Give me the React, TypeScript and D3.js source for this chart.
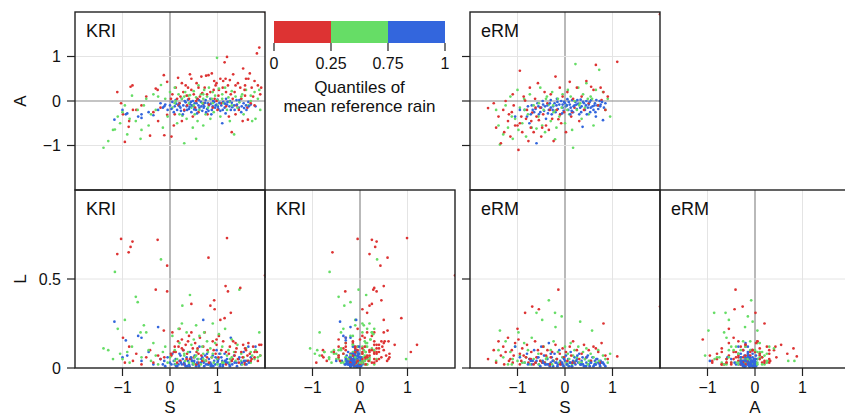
import React from "react";
import * as d3 from "d3";

// Each point: [S, A, L]
const kriLow: [number, number, number][] = [
  [-1.11, 0.2, 0.64], [-1.03, -0.05, 0.725], [-0.95, -0.92, 0.03], [-0.99, -0.3, 0.17],
  [-0.87, -0.58, 0.65], [-0.86, -0.45, 0.12], [-0.83, 0.32, 0.68], [-0.79, 0.35, 0.71],
  [-0.78, -0.2, 0.04], [-0.71, -0.2, 0.08], [-0.6, -0.1, 0.02], [-0.5, 0.1, 0.06],
  [-0.42, -0.78, 0.1], [-0.35, -0.25, 0.03], [-0.3, 0.28, 0.44], [-0.26, 0.25, 0.72],
  [-0.2, -0.15, 0.05], [-0.13, 0.58, 0.21], [-0.12, -0.77, 0.06], [-0.06, 0.43, 0.575],
  [-0.06, -0.31, 0.43], [0.03, -0.8, 0.07], [0.05, 0.15, 0.2], [0.1, -0.3, 0.12],
  [0.12, 0.3, 0.09], [0.17, 0.52, 0.15], [0.2, -0.05, 0.22], [0.22, 0.1, 0.04],
  [0.25, -0.45, 0.16], [0.28, 0.2, 0.1], [0.3, -0.2, 0.02], [0.33, 0.35, 0.13],
  [0.36, -0.1, 0.08], [0.4, 0.05, 0.18], [0.42, 0.6, 0.05], [0.45, 0.25, 0.36],
  [0.48, -0.35, 0.11], [0.5, 0.15, 0.06], [0.53, -0.15, 0.14], [0.56, 0.4, 0.09],
  [0.6, -0.25, 0.03], [0.63, 0.1, 0.17], [0.66, 0.55, 0.07], [0.7, -0.05, 0.12],
  [0.73, 0.3, 0.2], [0.76, 0.57, 0.04], [0.79, -0.3, 0.1], [0.81, 0.58, 0.62],
  [0.85, 0.2, 0.35], [0.88, 0.62, 0.06], [0.9, -0.15, 0.15], [0.93, 0.45, 0.38],
  [0.94, 0.05, 0.33], [0.96, 0.35, 0.08], [0.98, 0.4, 0.13], [1.0, -0.2, 0.05],
  [1.03, 0.25, 0.18], [1.06, 0.5, 0.27], [1.08, -0.05, 0.1], [1.11, 0.3, 0.03],
  [1.15, 0.87, 0.28], [1.17, 0.5, 0.46], [1.2, 0.99, 0.73], [1.22, 0.35, 0.43],
  [1.24, -0.35, 0.08], [1.26, 0.47, 0.12], [1.28, 0.15, 0.31], [1.3, -0.7, 0.04],
  [1.33, 0.6, 0.15], [1.36, 0.2, 0.07], [1.4, -0.1, 0.11], [1.43, 0.4, 0.05],
  [1.48, 0.3, 0.45], [1.5, 0.05, 0.09], [1.53, -0.45, 0.06], [1.54, 0.73, 0.13],
  [1.57, 0.25, 0.03], [1.6, 0.5, 0.1], [1.63, -0.15, 0.07], [1.65, 0.5, 0.14],
  [1.64, -0.42, 0.04], [1.68, 0.62, 0.08], [1.72, 0.3, 0.05], [1.75, 0.1, 0.12],
  [1.78, 0.45, 0.06], [1.83, 1.07, 0.09], [1.85, 0.35, 0.04], [1.88, 1.2, 0.13],
  [1.9, 0.15, 0.07], [2.0, 2.0, 0.52], [0.15, 0.05, 0.03], [0.35, 0.12, 0.05],
  [0.55, 0.0, 0.02], [0.68, 0.18, 0.04], [0.82, -0.08, 0.03], [1.02, 0.12, 0.06],
  [1.18, -0.12, 0.02], [1.32, 0.05, 0.05], [1.45, -0.2, 0.03], [1.58, 0.12, 0.02],
  [1.7, -0.05, 0.04], [0.25, 0.4, 0.11], [0.6, 0.3, 0.08], [0.92, 0.25, 0.1],
  [1.12, 0.45, 0.15], [1.38, 0.35, 0.09], [0.08, -0.55, 0.09], [-0.25, -0.45, 0.07],
  [0.02, 0.05, 0.08], [0.18, -0.1, 0.12], [0.38, 0.3, 0.15], [0.58, 0.05, 0.11],
  [0.78, 0.15, 0.06], [0.98, 0.0, 0.16], [1.18, 0.2, 0.09], [1.38, -0.3, 0.14],
  [1.58, 0.35, 0.11], [1.78, -0.1, 0.09], [1.92, 0.3, 0.13], [0.45, 0.5, 0.2],
];

const kriMid: [number, number, number][] = [
  [-1.4, -1.05, 0.11], [-1.3, -0.9, 0.1], [-1.2, -0.65, 0.05], [-1.16, -0.64, 0.54],
  [-1.1, -0.35, 0.22], [-1.05, -0.5, 0.08], [-0.95, -0.1, 0.27], [-0.85, -0.4, 0.03],
  [-0.8, 0.12, 0.12], [-0.72, -0.45, 0.4], [-0.68, -0.2, 0.37], [-0.6, -0.65, 0.06],
  [-0.55, -0.1, 0.24], [-0.5, 0.05, 0.2], [-0.45, -0.55, 0.1], [-0.4, -0.3, 0.04],
  [-0.35, 0.15, 0.14], [-0.3, -0.2, 0.07], [-0.25, 0.1, 0.02], [-0.19, 0.36, 0.61],
  [-0.15, -0.6, 0.09], [-0.1, 0.05, 0.12], [-0.05, -0.35, 0.03], [0.0, 0.2, 0.06],
  [0.05, -0.15, 0.18], [0.1, 0.3, 0.1], [0.15, -0.5, 0.05], [0.18, 0.15, 0.22],
  [0.2, -0.3, 0.14], [0.25, 0.05, 0.25], [0.26, -0.33, 0.35], [0.3, -0.95, 0.08],
  [0.32, 0.2, 0.04], [0.35, -0.4, 0.2], [0.38, 0.12, 0.09], [0.42, 0.13, 0.41],
  [0.45, -0.15, 0.13], [0.48, -0.6, 0.03], [0.5, 0.22, 0.16], [0.52, -0.3, 0.06],
  [0.55, 0.08, 0.24], [0.58, -0.45, 0.1], [0.6, 0.35, 0.05], [0.62, -0.2, 0.18],
  [0.65, 0.15, 0.02], [0.68, -0.05, 0.12], [0.7, -0.55, 0.08], [0.72, 0.25, 0.2],
  [0.75, -0.3, 0.04], [0.78, 0.1, 0.15], [0.8, -0.15, 0.09], [0.82, 0.3, 0.02],
  [0.85, -0.4, 0.11], [0.88, 0.05, 0.06], [0.9, 0.2, 0.25], [0.92, -0.25, 0.03],
  [0.95, 0.12, 0.14], [0.99, 0.97, 0.05], [1.0, -0.1, 0.05], [1.03, 0.28, 0.19],
  [1.06, -0.35, 0.08], [1.1, 0.15, 0.12], [1.13, -0.05, 0.03], [1.16, 0.3, 0.22],
  [1.2, -0.2, 0.07], [1.23, 0.08, 0.1], [1.26, -0.45, 0.05], [1.3, 0.22, 0.16],
  [1.35, -0.75, 0.09], [1.38, 0.1, 0.04], [1.42, -0.15, 0.13], [1.46, -0.03, 0.44],
  [1.5, 0.05, 0.08], [1.55, -0.3, 0.06], [1.6, 0.25, 0.11], [1.65, -0.1, 0.04],
  [1.7, 0.12, 0.09], [1.73, -0.45, 0.07], [1.78, 0.2, 0.05], [1.8, -0.4, 0.1],
  [1.85, 0.05, 0.06], [1.88, 0.25, 0.2], [0.12, 0.0, 0.02], [0.4, -0.05, 0.03],
  [0.7, 0.05, 0.04], [1.0, 0.02, 0.02], [1.25, -0.02, 0.03], [1.52, 0.15, 0.02],
  [-0.9, -0.75, 0.09], [-0.62, -0.85, 0.2], [-1.0, -0.25, 0.05], [0.55, -0.85, 0.07],
  [0.1, -0.05, 0.04], [0.3, 0.1, 0.07], [0.5, -0.1, 0.02], [0.7, 0.15, 0.05],
  [0.9, -0.05, 0.08], [1.1, 0.05, 0.03], [1.3, -0.1, 0.06], [1.5, 0.1, 0.04],
  [1.7, 0.0, 0.03], [1.9, -0.2, 0.07],
];

const kriHigh: [number, number, number][] = [
  [-1.17, -0.42, 0.26], [-0.93, -0.3, 0.155], [-1.0, -0.2, 0.06], [-0.67, -0.35, 0.18],
  [-0.6, -0.3, 0.17], [-0.9, -0.28, 0.07], [-0.6, -0.38, 0.04], [-0.45, -0.25, 0.09],
  [-0.35, -0.32, 0.02], [-0.2, -0.05, 0.05], [-0.15, -0.15, 0.02], [-0.1, -0.08, 0.01],
  [0.0, -0.1, 0.03], [0.05, -0.02, 0.08], [0.1, -0.12, 0.02], [0.12, 0.02, 0.05],
  [0.15, -0.2, 0.01], [0.2, -0.05, 0.04], [0.22, -0.15, 0.07], [0.25, 0.05, 0.02],
  [0.28, -0.1, 0.1], [0.3, -0.22, 0.03], [0.33, -0.03, 0.01], [0.35, -0.12, 0.06],
  [0.38, 0.03, 0.04], [0.4, -0.18, 0.02], [0.42, -0.07, 0.09], [0.45, -0.25, 0.05],
  [0.48, 0.0, 0.02], [0.5, -0.12, 0.03], [0.52, -0.05, 0.07], [0.55, -0.2, 0.01],
  [0.58, 0.04, 0.05], [0.6, -0.1, 0.02], [0.62, -0.15, 0.12], [0.65, -0.02, 0.03],
  [0.68, -0.22, 0.06], [0.7, -0.08, 0.27], [0.72, -0.12, 0.01], [0.75, 0.02, 0.04],
  [0.78, -0.18, 0.08], [0.8, -0.05, 0.02], [0.82, -0.1, 0.05], [0.85, 0.05, 0.03],
  [0.88, -0.2, 0.01], [0.9, -0.12, 0.07], [0.93, -0.02, 0.04], [0.95, -0.15, 0.02],
  [0.98, -0.08, 0.1], [1.0, 0.03, 0.03], [1.02, -0.18, 0.05], [1.05, -0.05, 0.01],
  [1.08, -0.1, 0.06], [1.1, -0.5, 0.04], [1.12, -0.02, 0.02], [1.15, -0.15, 0.08],
  [1.18, 0.05, 0.03], [1.2, -0.08, 0.05], [1.25, -0.12, 0.02], [1.28, -0.2, 0.17],
  [1.3, -0.04, 0.04], [1.35, -0.1, 0.07], [1.4, 0.02, 0.03], [1.45, -0.15, 0.05],
  [1.5, -0.25, 0.02], [1.55, -0.05, 0.09], [1.6, -0.1, 0.04], [1.65, -0.02, 0.12],
  [1.7, -0.08, 0.06], [1.8, -0.12, 0.12], [0.08, -0.25, 0.04], [0.18, -0.08, 0.02],
  [0.36, -0.2, 0.01], [0.46, -0.1, 0.04], [0.56, -0.05, 0.02], [0.66, -0.12, 0.05],
  [0.76, -0.25, 0.02], [0.86, -0.06, 0.01], [0.96, -0.1, 0.06], [1.06, -0.22, 0.02],
  [1.16, -0.06, 0.04], [1.26, 0.0, 0.01], [1.36, -0.2, 0.03], [-0.25, -0.2, 0.23],
  [0.03, -0.18, 0.02], [0.13, -0.06, 0.01], [0.23, -0.22, 0.03], [0.31, 0.0, 0.02],
  [0.41, -0.13, 0.01], [0.51, -0.19, 0.04], [0.61, 0.02, 0.01], [0.71, -0.15, 0.03],
  [0.81, -0.22, 0.02], [0.91, 0.0, 0.01], [1.01, -0.13, 0.04], [1.11, -0.2, 0.01],
  [1.21, -0.02, 0.03], [1.31, -0.14, 0.02], [1.41, -0.08, 0.01], [1.51, -0.12, 0.03],
  [1.61, -0.2, 0.02], [1.46, 0.02, 0.06], [1.56, -0.16, 0.04], [1.66, -0.12, 0.03],
  [0.27, -0.3, 0.05], [0.57, -0.28, 0.03], [0.87, -0.3, 0.02], [1.17, -0.28, 0.04],
  [-0.05, -0.2, 0.06], [-0.12, -0.12, 0.04], [0.2, -0.12, 0.08], [0.44, -0.02, 0.06],
  [0.74, -0.04, 0.07], [1.04, -0.04, 0.08],
];

const ermLow: [number, number, number][] = [
  [-1.62, -0.16, 0.05], [-1.5, -0.05, 0.1], [-1.45, -0.6, 0.03], [-1.4, -0.35, 0.15],
  [-1.35, -0.95, 0.07], [-1.3, -0.2, 0.12], [-1.28, -0.7, 0.02], [-1.25, 0.0, 0.09],
  [-1.2, -0.45, 0.17], [-1.15, -0.8, 0.05], [-1.12, -0.25, 0.1], [-1.1, 0.15, 0.03],
  [-1.05, -0.55, 0.14], [-1.0, -0.55, 0.22], [-0.98, -1.1, 0.16], [-0.95, 0.68, 0.08],
  [-0.92, -0.35, 0.04], [-0.9, -0.7, 0.11], [-0.87, 0.1, 0.07], [-0.84, 0.01, 0.31],
  [-0.8, -0.2, 0.13], [-0.77, -0.9, 0.03], [-0.74, 0.3, 0.05], [-0.71, -0.45, 0.09],
  [-0.69, -0.26, 0.345], [-0.66, -0.7, 0.02], [-0.63, 0.05, 0.15], [-0.6, -0.35, 0.06],
  [-0.57, 0.4, 0.1], [-0.55, -0.43, 0.33], [-0.52, -0.15, 0.04], [-0.5, -0.8, 0.08],
  [-0.46, -0.3, 0.12], [-0.43, 0.2, 0.03], [-0.4, -0.55, 0.07], [-0.37, -0.05, 0.1],
  [-0.34, -0.65, 0.02], [-0.3, 0.15, 0.06], [-0.27, -0.4, 0.09], [-0.24, -0.9, 0.04],
  [-0.2, 0.55, 0.13], [-0.17, -0.2, 0.05], [-0.14, -0.41, 0.44], [-0.11, 0.3, 0.08],
  [-0.08, -0.5, 0.03], [-0.05, 0.1, 0.11], [-0.02, -0.25, 0.06], [0.02, -0.7, 0.09],
  [0.05, 0.2, 0.04], [0.1, 0.43, 0.12], [0.13, -0.35, 0.07], [0.17, 0.05, 0.15],
  [0.2, -0.15, 0.03], [0.25, 0.3, 0.1], [0.3, -0.45, 0.05], [0.35, 0.1, 0.08],
  [0.4, -0.2, 0.13], [0.45, 0.45, 0.06], [0.5, -0.05, 0.1], [0.55, 0.32, 0.04],
  [0.6, 0.25, 0.12], [0.65, 0.81, 0.11], [0.7, -0.1, 0.09], [0.75, 0.3, 0.03],
  [0.77, 0.02, 0.14], [0.81, 0.2, 0.25], [0.85, -0.2, 0.07], [0.9, 0.1, 0.05],
  [1.1, 0.88, 0.065], [2.0, 1.95, 0.345], [-1.18, -0.3, 0.04], [-0.95, -0.5, 0.02],
  [-0.72, -0.6, 0.05], [-0.48, -0.6, 0.03], [-0.32, -0.2, 0.02], [-0.1, -0.3, 0.02],
  [0.15, -0.25, 0.03], [-0.82, -0.4, 0.06], [-1.08, -0.1, 0.07], [-0.62, -0.15, 0.03],
];

const ermMid: [number, number, number][] = [
  [-1.45, -0.2, 0.04], [-1.4, -0.55, 0.1], [-1.37, -0.98, 0.21], [-1.3, -0.75, 0.06],
  [-1.25, -0.1, 0.15], [-1.2, -0.6, 0.02], [-1.15, 0.1, 0.09], [-1.1, -0.85, 0.05],
  [-1.05, -0.4, 0.12], [-1.0, 0.25, 0.04], [-0.98, -0.65, 0.2], [-0.95, -0.15, 0.07],
  [-0.9, -0.5, 0.03], [-0.86, 0.05, 0.14], [-0.82, -0.8, 0.06], [-0.78, -0.3, 0.1],
  [-0.74, 0.15, 0.02], [-0.7, -0.6, 0.17], [-0.66, -0.1, 0.05], [-0.6, -0.62, 0.31],
  [-0.56, -0.35, 0.08], [-0.52, 0.3, 0.04], [-0.48, -0.55, 0.27], [-0.45, -0.2, 0.12],
  [-0.42, -0.7, 0.03], [-0.38, 0.1, 0.06], [-0.34, -0.08, 0.38], [-0.3, -0.45, 0.1],
  [-0.27, 0.2, 0.02], [-0.24, -0.25, 0.15], [-0.21, -0.86, 0.31], [-0.2, -0.21, 0.23],
  [-0.18, -0.6, 0.05], [-0.15, 0.05, 0.09], [-0.12, -0.35, 0.03], [-0.07, -0.15, 0.29],
  [-0.05, 0.15, 0.06], [0.0, -0.5, 0.12], [0.03, -0.1, 0.03], [0.06, 0.25, 0.08],
  [0.09, -0.3, 0.05], [0.12, 0.1, 0.14], [0.15, -0.65, 0.02], [0.17, -1.05, 0.07],
  [0.2, 0.0, 0.1], [0.22, 0.83, 0.04], [0.25, -0.2, 0.06], [0.28, 0.3, 0.12],
  [0.32, -0.05, 0.26], [0.35, -0.4, 0.03], [0.38, 0.15, 0.09], [0.42, -0.15, 0.05],
  [0.45, 0.4, 0.11], [0.5, -0.3, 0.04], [0.54, 0.1, 0.08], [0.57, 0.05, 0.21],
  [0.6, -0.55, 0.06], [0.65, 0.25, 0.03], [0.7, -0.1, 0.1], [0.72, 0.7, 0.04],
  [0.8, 0.2, 0.07], [0.85, -0.2, 0.05], [0.9, 0.05, 0.03], [0.95, -0.35, 0.08],
  [-0.55, -0.05, 0.02], [-0.25, -0.1, 0.04], [0.05, -0.2, 0.02], [0.3, -0.1, 0.03],
  [-0.85, -0.2, 0.03], [-1.12, -0.35, 0.02], [-0.4, 0.05, 0.05], [0.48, 0.05, 0.02],
];

const ermHigh: [number, number, number][] = [
  [-0.85, -0.2, 0.03], [-0.8, -0.35, 0.08], [-0.75, -0.5, 0.05], [-0.7, -0.1, 0.02],
  [-0.65, -0.25, 0.1], [-0.6, -0.95, 0.04], [-0.58, -0.05, 0.06], [-0.55, -0.3, 0.02],
  [-0.5, -0.15, 0.12], [-0.47, 0.0, 0.04], [-0.44, -0.22, 0.07], [-0.4, -0.4, 0.02],
  [-0.37, -0.1, 0.05], [-0.34, -0.2, 0.14], [-0.3, 0.02, 0.03], [-0.28, -0.3, 0.06],
  [-0.25, -0.12, 0.01], [-0.22, -0.05, 0.08], [-0.2, -0.25, 0.03], [-0.17, 0.05, 0.05],
  [-0.15, -0.18, 0.02], [-0.12, -0.08, 0.1], [-0.1, -0.3, 0.04], [-0.08, 0.0, 0.02],
  [-0.05, -0.15, 0.06], [-0.03, -0.22, 0.01], [0.0, -0.05, 0.04], [0.02, -0.12, 0.07],
  [0.05, 0.04, 0.02], [0.07, -0.2, 0.05], [0.1, -0.08, 0.03], [0.12, -0.15, 0.09],
  [0.15, 0.02, 0.01], [0.17, -0.25, 0.04], [0.2, -0.1, 0.06], [0.22, -0.02, 0.02],
  [0.25, -0.18, 0.05], [0.28, -0.06, 0.03], [0.3, -0.3, 0.08], [0.33, 0.03, 0.02],
  [0.35, -0.12, 0.04], [0.37, -0.58, 0.06], [0.4, -0.05, 0.01], [0.42, -0.2, 0.05],
  [0.45, 0.0, 0.03], [0.48, -0.15, 0.07], [0.5, -0.08, 0.02], [0.53, -0.25, 0.04],
  [0.55, 0.02, 0.03], [0.58, -0.12, 0.06], [0.6, -0.2, 0.01], [0.63, -0.05, 0.04],
  [0.65, -0.35, 0.02], [0.68, -0.1, 0.05], [0.7, -0.18, 0.03], [0.73, 0.0, 0.02],
  [0.75, -0.08, 0.04], [0.8, -0.43, 0.03], [0.82, -0.15, 0.02], [0.85, -0.05, 0.01],
  [-1.05, -0.35, 0.12], [-0.95, -0.2, 0.06], [-0.42, -0.12, 0.02], [-0.18, -0.1, 0.03],
  [0.08, -0.02, 0.01], [0.32, -0.15, 0.02], [0.52, -0.02, 0.01], [-0.62, -0.18, 0.03],
  [-0.32, -0.05, 0.01], [0.18, -0.12, 0.03], [0.62, -0.1, 0.02], [-0.05, -0.08, 0.02],
  [-0.78, -0.12, 0.02], [-0.68, -0.2, 0.04], [-0.52, -0.25, 0.01], [-0.46, -0.08, 0.03],
  [-0.36, -0.28, 0.02], [-0.26, -0.2, 0.04], [-0.16, -0.02, 0.01], [-0.06, -0.28, 0.03],
  [0.04, -0.1, 0.02], [0.14, -0.22, 0.01], [0.24, -0.08, 0.04], [0.34, -0.25, 0.02],
  [0.44, -0.1, 0.01], [0.54, -0.15, 0.03], [0.64, -0.25, 0.02], [0.74, -0.12, 0.01],
  [0.78, -0.02, 0.03], [0.66, 0.02, 0.05], [0.46, -0.3, 0.06], [0.26, 0.02, 0.07],
  [-0.02, -0.02, 0.05], [-0.3, -0.15, 0.08], [-0.56, -0.12, 0.06], [-0.72, -0.3, 0.04],
  [0.11, -0.3, 0.03], [0.38, -0.02, 0.02],
];

const xTicks = [-1, 0, 1];
const aTicks = [1, 0, -1];
const lTicks = [0, 0.5];
const cbTickLabels = ["0", "0.25", "0.75", "1"];
const quantColors = ["#dd3333", "#66dd66", "#3366dd"];
const cbTitle = ["Quantiles of", "mean reference rain"];

const FONT = "'Liberation Sans', Arial, Helvetica, sans-serif";
const PW = 190;
const PH = 178;

type Pt = [number, number, number];
const VAR_IDX: Record<string, number> = { S: 0, A: 1, L: 2 };

function interleave(low: Pt[], mid: Pt[], high: Pt[]) {
  const out: { p: Pt; q: number }[] = [];
  const n = Math.max(low.length, mid.length, high.length);
  for (let i = 0; i < n; i++) {
    if (i < mid.length) out.push({ p: mid[i], q: 1 });
    if (i < low.length) out.push({ p: low[i], q: 0 });
    if (i < high.length) out.push({ p: high[i], q: 2 });
  }
  return out;
}

const kriPts = interleave(kriLow, kriMid, kriHigh);
const ermPts = interleave(ermLow, ermMid, ermHigh);

const fmt = (v: number) => (v < 0 ? "\u2212" + Math.abs(v) : String(v));

type PanelCfg = {
  id: string;
  model: string;
  x0: number;
  y0: number;
  xv: string;
  yv: string;
  yAxis: "labels" | "ticks" | "none";
  xAxis: boolean;
};

const panels: PanelCfg[] = [
  { id: "p1", model: "KRI", x0: 75, y0: 12, xv: "S", yv: "A", yAxis: "labels", xAxis: false },
  { id: "p2", model: "eRM", x0: 470, y0: 12, xv: "S", yv: "A", yAxis: "ticks", xAxis: false },
  { id: "p3", model: "KRI", x0: 75, y0: 190, xv: "S", yv: "L", yAxis: "labels", xAxis: true },
  { id: "p4", model: "KRI", x0: 265, y0: 190, xv: "A", yv: "L", yAxis: "none", xAxis: true },
  { id: "p5", model: "eRM", x0: 470, y0: 190, xv: "S", yv: "L", yAxis: "ticks", xAxis: true },
  { id: "p6", model: "eRM", x0: 660, y0: 190, xv: "A", yv: "L", yAxis: "none", xAxis: true },
];

function Panel({ cfg }: { cfg: PanelCfg }) {
  const x = d3.scaleLinear().domain([-2, 2]).range([cfg.x0, cfg.x0 + PW]);
  const y =
    cfg.yv === "A"
      ? d3.scaleLinear().domain([-2, 2]).range([cfg.y0 + PH, cfg.y0])
      : d3.scaleLinear().domain([0, 1]).range([cfg.y0 + PH, cfg.y0]);
  const yt = cfg.yv === "A" ? aTicks : lTicks;
  const pts = cfg.model === "KRI" ? kriPts : ermPts;
  const xi = VAR_IDX[cfg.xv];
  const yi = VAR_IDX[cfg.yv];
  const x1 = cfg.x0 + PW;
  const y1 = cfg.y0 + PH;
  return (
    <g>
      <defs>
        <clipPath id={"clip-" + cfg.id}>
          <rect x={cfg.x0} y={cfg.y0} width={PW} height={PH} />
        </clipPath>
      </defs>
      {xTicks.map((t) => (
        <line
          key={"gx" + t}
          x1={x(t)}
          x2={x(t)}
          y1={cfg.y0}
          y2={y1}
          stroke={t === 0 ? "#8a8a8a" : "#e4e4e4"}
          strokeWidth={t === 0 ? 1.2 : 1}
        />
      ))}
      {yt.map((t) =>
        cfg.yv === "L" && t === 0 ? null : (
          <line
            key={"gy" + t}
            x1={cfg.x0}
            x2={x1}
            y1={y(t)}
            y2={y(t)}
            stroke={cfg.yv === "A" && t === 0 ? "#8a8a8a" : "#e4e4e4"}
            strokeWidth={cfg.yv === "A" && t === 0 ? 1.2 : 1}
          />
        )
      )}
      <g clipPath={`url(#clip-${cfg.id})`}>
        {pts.map((d, i) => (
          <circle key={i} cx={x(d.p[xi])} cy={y(d.p[yi])} r={1.35} fill={quantColors[d.q]} />
        ))}
      </g>
      <text x={cfg.x0 + 11} y={cfg.y0 + 25} fontSize={18} fontFamily={FONT} fill="#111">
        {cfg.model}
      </text>
      <rect x={cfg.x0} y={cfg.y0} width={PW} height={PH} fill="none" stroke="#222" strokeWidth={1.4} />
      {cfg.yAxis !== "none" &&
        yt.map((t) => (
          <g key={"yt" + t}>
            <line x1={cfg.x0 - 8} x2={cfg.x0} y1={y(t)} y2={y(t)} stroke="#222" strokeWidth={1.2} />
            {cfg.yAxis === "labels" && (
              <text
                x={cfg.x0 - 14}
                y={y(t)}
                dy="0.36em"
                textAnchor="end"
                fontSize={16}
                fontFamily={FONT}
                fill="#111"
              >
                {fmt(t)}
              </text>
            )}
          </g>
        ))}
      {cfg.xAxis &&
        xTicks.map((t) => (
          <g key={"xt" + t}>
            <line x1={x(t)} x2={x(t)} y1={y1} y2={y1 + 8} stroke="#222" strokeWidth={1.2} />
            <text x={x(t)} y={y1 + 25} textAnchor="middle" fontSize={16} fontFamily={FONT} fill="#111">
              {fmt(t)}
            </text>
          </g>
        ))}
      {cfg.xAxis && (
        <text x={(cfg.x0 + x1) / 2} y={y1 + 45} textAnchor="middle" fontSize={17} fontFamily={FONT} fill="#111">
          {cfg.xv}
        </text>
      )}
      {cfg.yAxis === "labels" && (
        <text
          transform={`translate(${cfg.x0 - 49},${(cfg.y0 + y1) / 2}) rotate(-90)`}
          textAnchor="middle"
          fontSize={17}
          fontFamily={FONT}
          fill="#111"
        >
          {cfg.yv}
        </text>
      )}
    </g>
  );
}

function Colorbar() {
  const cb = d3.scaleLinear().domain([0, 3]).range([274, 445]);
  const cy0 = 21;
  const cy1 = 43;
  return (
    <g>
      {quantColors.map((c, i) => (
        <rect key={i} x={cb(i)} y={cy0} width={cb(i + 1) - cb(i)} height={cy1 - cy0} fill={c} />
      ))}
      {cbTickLabels.map((l, i) => (
        <g key={l}>
          <line x1={cb(i)} x2={cb(i)} y1={cy1} y2={cy1 + 8} stroke="#222" strokeWidth={1.2} />
          <text x={cb(i)} y={cy1 + 26} textAnchor="middle" fontSize={16} fontFamily={FONT} fill="#111">
            {l}
          </text>
        </g>
      ))}
      {cbTitle.map((t, i) => (
        <text key={t} x={cb(1.5)} y={93 + i * 19} textAnchor="middle" fontSize={17} fontFamily={FONT} fill="#111">
          {t}
        </text>
      ))}
    </g>
  );
}

export default function App() {
  return (
    <svg
      width={845}
      height={419}
      style={{ position: "absolute", left: 0, top: 0, background: "#fff", display: "block" }}
    >
      <rect width={845} height={419} fill="#fff" />
      {panels.map((p) => (
        <Panel key={p.id} cfg={p} />
      ))}
      <Colorbar />
    </svg>
  );
}
